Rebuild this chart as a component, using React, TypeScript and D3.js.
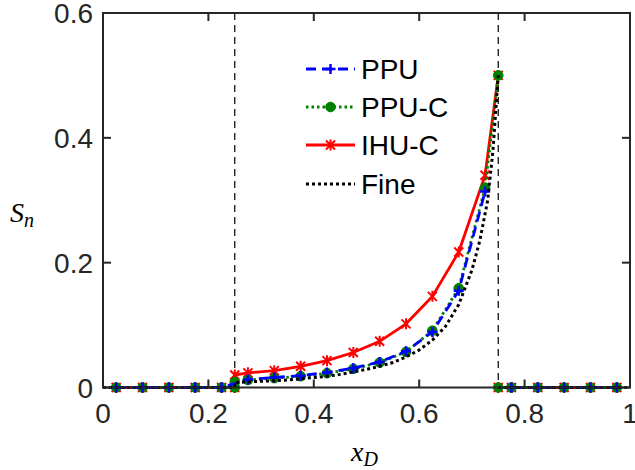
import React from "react";
import * as d3 from "d3";

// ---- data ----
const leftX = [0.025, 0.075, 0.125, 0.175, 0.225];
const midX = [0.275, 0.325, 0.375, 0.425, 0.475, 0.525, 0.575, 0.625, 0.675, 0.725];
const rightX = [0.775, 0.825, 0.875, 0.925, 0.975];
const frontLeft = 0.25;
const frontRight = 0.75;
const frontPeak = 0.5;

const ppuMid = [0.013, 0.016, 0.019, 0.024, 0.031, 0.041, 0.058, 0.089, 0.155, 0.314];
const ppucMid = [0.012, 0.015, 0.018, 0.023, 0.030, 0.040, 0.057, 0.091, 0.159, 0.32];
const ihucMid = [0.0235, 0.027, 0.034, 0.043, 0.056, 0.074, 0.102, 0.146, 0.217, 0.34];
const ppucFrontL = 0.009;
const ihucFrontL = 0.02;

const fineX = [0.25, 0.275, 0.3, 0.325, 0.35, 0.375, 0.4, 0.425, 0.45, 0.475, 0.5, 0.525, 0.55, 0.575, 0.6, 0.625, 0.65, 0.675, 0.7, 0.715, 0.73, 0.74, 0.75];
const fineY = [0.008, 0.009, 0.010, 0.011, 0.012, 0.014, 0.016, 0.018, 0.021, 0.025, 0.029, 0.034, 0.040, 0.049, 0.060, 0.076, 0.098, 0.133, 0.188, 0.235, 0.30, 0.38, 0.5];

const xTicks = [0, 0.2, 0.4, 0.6, 0.8, 1];
const yTicks = [0, 0.2, 0.4, 0.6];
const vLines = [0.25, 0.75];
const legendLabels = ["PPU", "PPU-C", "IHU-C", "Fine"];

type P = [number, number];

const W = 635, H = 470;
const M = { left: 103, right: 630, top: 13, bottom: 387.5 };
const axisColor = "#262626";
const font = "'Liberation Sans', Arial, Helvetica, sans-serif";

export default function App() {
  const x = d3.scaleLinear().domain([0, 1]).range([M.left, M.right]);
  const y = d3.scaleLinear().domain([0, 0.6]).range([M.bottom, M.top]);
  const line = d3.line<P>().x((d) => x(d[0])).y((d) => y(d[1]));

  const zeros = (xs: number[]): P[] => xs.map((v) => [v, 0] as P);
  const zip = (xs: number[], ys: number[]): P[] => xs.map((v, i) => [v, ys[i]] as P);

  // PPU
  const ppuSegs: P[][] = [
    [...zeros(leftX), ...zip(midX, ppuMid)],
    zeros(rightX),
  ];
  const ppuPts = ppuSegs.flat();
  // PPU-C
  const ppucSegs: P[][] = [
    [...zeros(leftX), [frontLeft, 0], [frontLeft, ppucFrontL], ...zip(midX, ppucMid), [frontRight, frontPeak]],
    [[frontRight, 0], ...zeros(rightX)],
  ];
  const ppucPts = ppucSegs.flat();
  // IHU-C
  const ihucSegs: P[][] = [
    [...zeros(leftX), [frontLeft, 0], [frontLeft, ihucFrontL], ...zip(midX, ihucMid), [frontRight, frontPeak]],
    [[frontRight, 0], ...zeros(rightX)],
  ];
  const ihucPts = ihucSegs.flat();
  // Fine
  const fineSegs: P[][] = [
    [[0, 0], [frontLeft, 0], ...zip(fineX, fineY)],
    [[frontRight, 0], [1, 0]],
  ];

  const blue = "#0000ff", green = "#008000", red = "#ff0000";

  const plus = (cx: number, cy: number, k: string | number) => (
    <path key={k} d={`M${cx - 5},${cy}H${cx + 5}M${cx},${cy - 5}V${cy + 5}`} stroke={blue} strokeWidth={2.5} fill="none" />
  );
  const dot = (cx: number, cy: number, k: string | number) => (
    <circle key={k} cx={cx} cy={cy} r={4.8} fill={green} stroke={green} strokeWidth={1} />
  );
  const star = (cx: number, cy: number, k: string | number) => {
    const s = 4.5;
    return (
      <path key={k} d={`M${cx - s},${cy - s}L${cx + s},${cy + s}M${cx - s},${cy + s}L${cx + s},${cy - s}M${cx},${cy - s - 1}V${cy + s + 1}`} stroke={red} strokeWidth={2} fill="none" />
    );
  };

  const legendY = [69, 107, 145, 184];
  const lx0 = 306, lx1 = 355;

  return (
    <svg width={W} height={H} style={{ position: "absolute", left: 0, top: 0, background: "#fff" }}>
      <rect x={0} y={0} width={W} height={H} fill="#fff" />
      {/* vertical dashed */}
      {vLines.map((v) => (
        <line key={v} x1={x(v)} x2={x(v)} y1={M.top} y2={M.bottom} stroke="#000" strokeWidth={1.2} strokeDasharray="7,5" />
      ))}
      {/* IHU-C */}
      {ihucSegs.map((s, i) => (
        <path key={"rc" + i} d={line(s) || ""} fill="none" stroke={red} strokeWidth={2.8} />
      ))}
      {ihucPts.map((p, i) => star(x(p[0]), y(p[1]), "rs" + i))}
      {/* PPU-C */}
      {ppucSegs.map((s, i) => (
        <path key={"gc" + i} d={line(s) || ""} fill="none" stroke={green} strokeWidth={2.8} strokeDasharray="2.5,3" />
      ))}
      {ppucPts.map((p, i) => dot(x(p[0]), y(p[1]), "gd" + i))}
      {/* PPU */}
      {ppuSegs.map((s, i) => (
        <path key={"bc" + i} d={line(s) || ""} fill="none" stroke={blue} strokeWidth={2.8} strokeDasharray="10,6" />
      ))}
      {ppuPts.map((p, i) => plus(x(p[0]), y(p[1]), "bp" + i))}
      {/* Fine */}
      {fineSegs.map((s, i) => (
        <path key={"kc" + i} d={line(s) || ""} fill="none" stroke="#000" strokeWidth={3} strokeDasharray="3,3" />
      ))}

      {/* axes box */}
      <rect x={M.left} y={M.top} width={M.right - M.left} height={M.bottom - M.top} fill="none" stroke={axisColor} strokeWidth={2} />
      {xTicks.map((t) => (
        <g key={"xt" + t}>
          <line x1={x(t)} x2={x(t)} y1={M.bottom} y2={M.bottom - 8} stroke={axisColor} strokeWidth={2} />
          <line x1={x(t)} x2={x(t)} y1={M.top} y2={M.top + 8} stroke={axisColor} strokeWidth={2} />
          <text x={x(t)} y={M.bottom + 35} textAnchor="middle" fontFamily={font} fontSize={28} fill={axisColor}>
            {d3.format("~g")(t)}
          </text>
        </g>
      ))}
      {yTicks.map((t) => (
        <g key={"yt" + t}>
          <line x1={M.left} x2={M.left + 8} y1={y(t)} y2={y(t)} stroke={axisColor} strokeWidth={2} />
          <line x1={M.right} x2={M.right - 8} y1={y(t)} y2={y(t)} stroke={axisColor} strokeWidth={2} />
          <text x={M.left - 10} y={y(t) + 10} textAnchor="end" fontFamily={font} fontSize={28} fill={axisColor}>
            {d3.format("~g")(t)}
          </text>
        </g>
      ))}

      {/* axis labels */}
      <text x={351} y={461} fontFamily="'Liberation Serif', 'DejaVu Serif', serif" fontStyle="italic" fontSize={28} fill="#000">
        x<tspan fontSize={20} dy={5}>D</tspan>
      </text>
      <text x={10} y={222} fontFamily="'Liberation Serif', 'DejaVu Serif', serif" fontStyle="italic" fontSize={28} fill="#000">
        S<tspan fontSize={20} dy={5}>n</tspan>
      </text>

      {/* legend */}
      <g>
        <line x1={lx0} x2={lx1} y1={legendY[0]} y2={legendY[0]} stroke={blue} strokeWidth={2.8} strokeDasharray="10,6" />
        {plus((lx0 + lx1) / 2, legendY[0], "lp")}
        <line x1={lx0} x2={lx1} y1={legendY[1]} y2={legendY[1]} stroke={green} strokeWidth={2.8} strokeDasharray="2.5,3" />
        {dot((lx0 + lx1) / 2, legendY[1], "ld")}
        <line x1={lx0} x2={lx1} y1={legendY[2]} y2={legendY[2]} stroke={red} strokeWidth={2.8} />
        {star((lx0 + lx1) / 2, legendY[2], "ls")}
        <line x1={lx0} x2={lx1} y1={legendY[3]} y2={legendY[3]} stroke="#000" strokeWidth={3} strokeDasharray="3,3" />
        {legendLabels.map((l, i) => (
          <text key={l} x={361} y={legendY[i] + 10} fontFamily={font} fontSize={28} fill="#000">
            {l}
          </text>
        ))}
      </g>
    </svg>
  );
}
